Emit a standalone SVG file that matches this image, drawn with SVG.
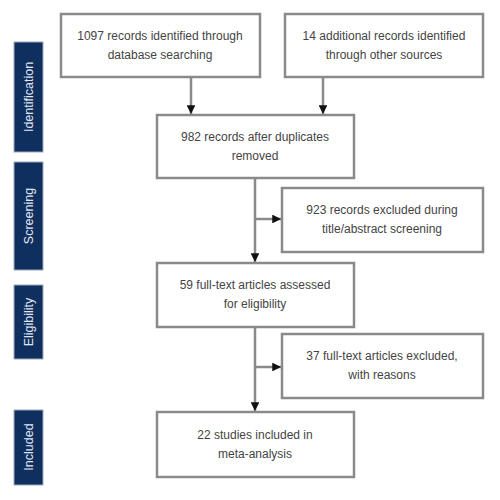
<svg xmlns="http://www.w3.org/2000/svg" width="500" height="500" viewBox="0 0 500 500">
<style>
.box{fill:#fff;stroke:#8a8a8a;stroke-width:2.5}
.t{font-family:"Liberation Sans Narrow","Liberation Sans",Arial,sans-serif;font-size:12px;fill:#444;text-anchor:middle}
.side{fill:#0f2f5e;stroke:#a0a8b8;stroke-width:1}
.st{font-family:"Liberation Sans",Arial,sans-serif;font-size:12.5px;fill:#e0e6f0;text-anchor:middle}
.ln{stroke:#8a8a8a;stroke-width:2.5;fill:none}
</style>
<defs>
<marker id="ah" viewBox="0 0 10 10" refX="10" refY="5" markerWidth="3.5" markerHeight="3.5" orient="auto" markerUnits="strokeWidth">
<path d="M0,0 L10,5 L0,10 Z" fill="#111"/>
</marker>
</defs>
<rect width="500" height="500" fill="#fff"/>
<g id="phase-identification"><rect class="side" x="14" y="42" width="29" height="110"/><text class="st" transform="translate(33,97) rotate(-90)">Identification</text></g>
<g id="phase-screening"><rect class="side" x="14" y="162" width="29" height="108"/><text class="st" transform="translate(33,216) rotate(-90)">Screening</text></g>
<g id="phase-eligibility"><rect class="side" x="14" y="285" width="29" height="74"/><text class="st" transform="translate(33,322) rotate(-90)">Eligibility</text></g>
<g id="phase-included"><rect class="side" x="14" y="410" width="29" height="75"/><text class="st" transform="translate(33,447) rotate(-90)">Included</text></g>
<g id="connectors">
<line class="ln" x1="191" y1="77" x2="191" y2="114" marker-end="url(#ah)"/>
<line class="ln" x1="323" y1="77" x2="323" y2="114" marker-end="url(#ah)"/>
<line class="ln" x1="255" y1="178" x2="255" y2="262" marker-end="url(#ah)"/>
<line class="ln" x1="255" y1="219" x2="281" y2="219" marker-end="url(#ah)"/>
<line class="ln" x1="255" y1="327" x2="255" y2="411" marker-end="url(#ah)"/>
<line class="ln" x1="255" y1="367" x2="281" y2="367" marker-end="url(#ah)"/>
</g>
<g id="n1"><rect class="box" x="61" y="14" width="199" height="63"/><text class="t" x="160" y="40">1097 records identified through</text><text class="t" x="160" y="59">database searching</text></g>
<g id="n2"><rect class="box" x="285" y="14" width="198" height="63"/><text class="t" x="384" y="40">14 additional records identified</text><text class="t" x="384" y="59">through other sources</text></g>
<g id="n3"><rect class="box" x="157" y="115" width="197" height="63"/><text class="t" x="255" y="141">982 records after duplicates</text><text class="t" x="255" y="160">removed</text></g>
<g id="n4"><rect class="box" x="282" y="188" width="201" height="64"/><text class="t" x="382" y="214">923 records excluded during</text><text class="t" x="382" y="233">title/abstract screening</text></g>
<g id="n5"><rect class="box" x="157" y="263" width="197" height="64"/><text class="t" x="255" y="289">59 full-text articles assessed</text><text class="t" x="255" y="308">for eligibility</text></g>
<g id="n6"><rect class="box" x="282" y="334" width="201" height="64"/><text class="t" x="382" y="360">37 full-text articles excluded,</text><text class="t" x="382" y="379">with reasons</text></g>
<g id="n7"><rect class="box" x="157" y="412" width="197" height="65"/><text class="t" x="255" y="439">22 studies included in</text><text class="t" x="255" y="458">meta-analysis</text></g>
</svg>
